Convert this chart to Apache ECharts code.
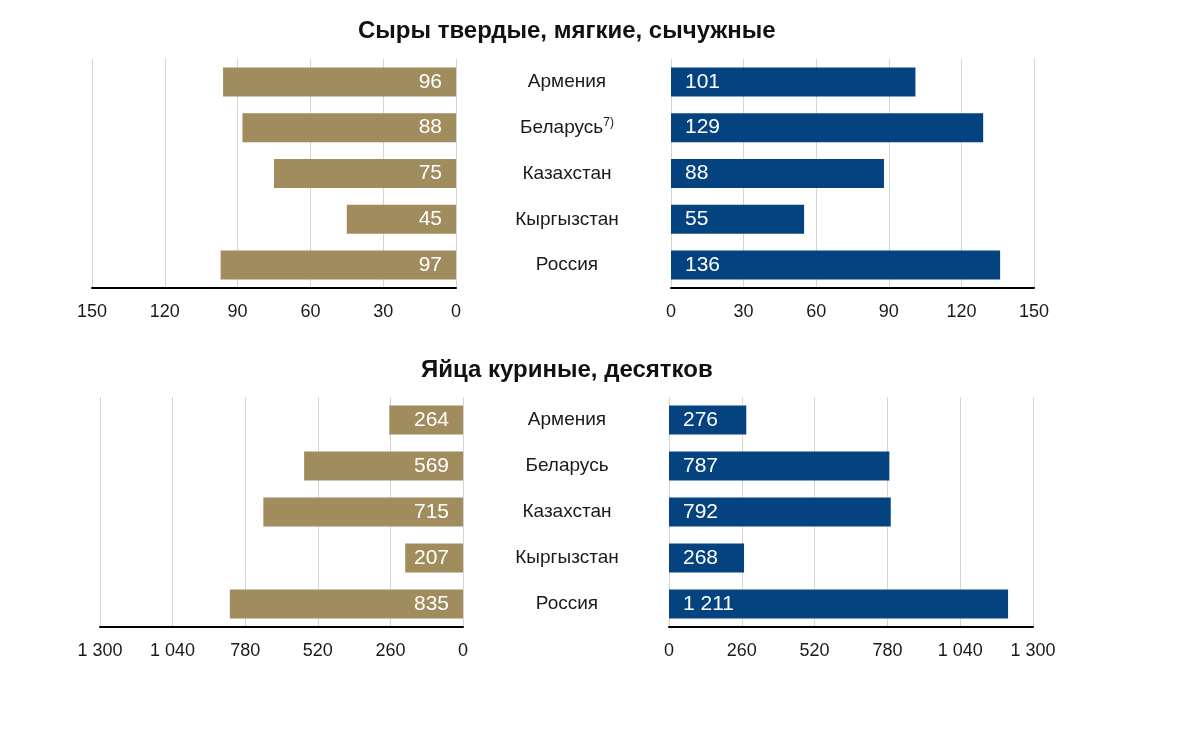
<!DOCTYPE html>
<html><head><meta charset="utf-8">
<script src="https://cdn.jsdelivr.net/npm/echarts@6/dist/echarts.min.js"></script>
<style>html,body{margin:0;padding:0;background:#fff}#c{width:1200px;height:736px}</style>
</head><body><div id="c"></div>
<script>
const countriesCheese = ['Армения', 'Беларусь{sup|7)}', 'Казахстан', 'Кыргызстан', 'Россия'];
const countriesEggs = ['Армения', 'Беларусь', 'Казахстан', 'Кыргызстан', 'Россия'];
const cheeseLeft = [96, 88, 75, 45, 97];
const cheeseRight = [101, 129, 88, 55, 136];
const eggsLeft = [264, 569, 715, 207, 835];
const eggsRight = [276, 787, 792, 268, 1211];
const titles = ['Сыры твердые, мягкие, сычужные', 'Яйца куриные, десятков'];

const GOLD = '#A08C5C', BLUE = '#044280';
const FONT = 'Liberation Sans, Arial, sans-serif';
const fmt = v => String(v).replace(/\B(?=(\d{3})+(?!\d))/g, ' ');

const grids = [
  {left: 92, width: 364, top: 59, height: 229},
  {left: 671, width: 363, top: 59, height: 229},
  {left: 100, width: 363, top: 397, height: 230},
  {left: 669, width: 364, top: 397, height: 230}
];
function xAx(gi, max, interval, inverse) {
  return {
    type: 'value', gridIndex: gi, min: 0, max: max, interval: interval, inverse: inverse,
    axisLine: {show: true, onZero: false, lineStyle: {color: '#000', width: 2}},
    axisTick: {show: false},
    splitLine: {show: true, lineStyle: {color: '#d4d4d4', width: 1}},
    axisLabel: {color: '#1a1a1a', fontSize: 18, fontFamily: FONT, margin: 15, formatter: fmt}
  };
}
function yAx(gi, cats, showLabels, margin) {
  return {
    type: 'category', gridIndex: gi, data: cats, inverse: true,
    position: showLabels ? 'right' : 'left',
    axisLine: {show: false}, axisTick: {show: false}, splitLine: {show: false},
    axisLabel: {show: showLabels, align: 'center', margin: margin, color: '#1a1a1a', fontSize: 19, fontFamily: FONT,
      rich: {sup: {fontSize: 12, verticalAlign: 'top', padding: [0, 0, 10, 0], color: '#1a1a1a', fontFamily: FONT}}}
  };
}
function ser(gi, data, color, pos) {
  return {
    type: 'bar', xAxisIndex: gi, yAxisIndex: gi, data: data, barWidth: 29,
    itemStyle: {color: color}, silent: true, animation: false,
    label: {show: true, position: pos, distance: 14, color: '#fff', fontSize: 21, fontFamily: FONT, formatter: p => fmt(p.value)}
  };
}
const chart = echarts.init(document.getElementById('c'), null, {renderer: 'canvas'});
chart.setOption({
  animation: false,
  backgroundColor: '#fff',
  title: [
    {text: titles[0], left: 353, top: 14, textStyle: {fontSize: 24, fontWeight: 'bold', color: '#111', fontFamily: FONT}},
    {text: titles[1], left: 416, top: 353, textStyle: {fontSize: 24, fontWeight: 'bold', color: '#111', fontFamily: FONT}}
  ],
  grid: grids,
  xAxis: [xAx(0, 150, 30, true), xAx(1, 150, 30, false), xAx(2, 1300, 260, true), xAx(3, 1300, 260, false)],
  yAxis: [yAx(0, countriesCheese, true, 111), yAx(1, countriesCheese, false, 0), yAx(2, countriesEggs, true, 104), yAx(3, countriesEggs, false, 0)],
  series: [
    ser(0, cheeseLeft, GOLD, 'insideRight'),
    ser(1, cheeseRight, BLUE, 'insideLeft'),
    ser(2, eggsLeft, GOLD, 'insideRight'),
    ser(3, eggsRight, BLUE, 'insideLeft')
  ]
});
</script></body></html>
